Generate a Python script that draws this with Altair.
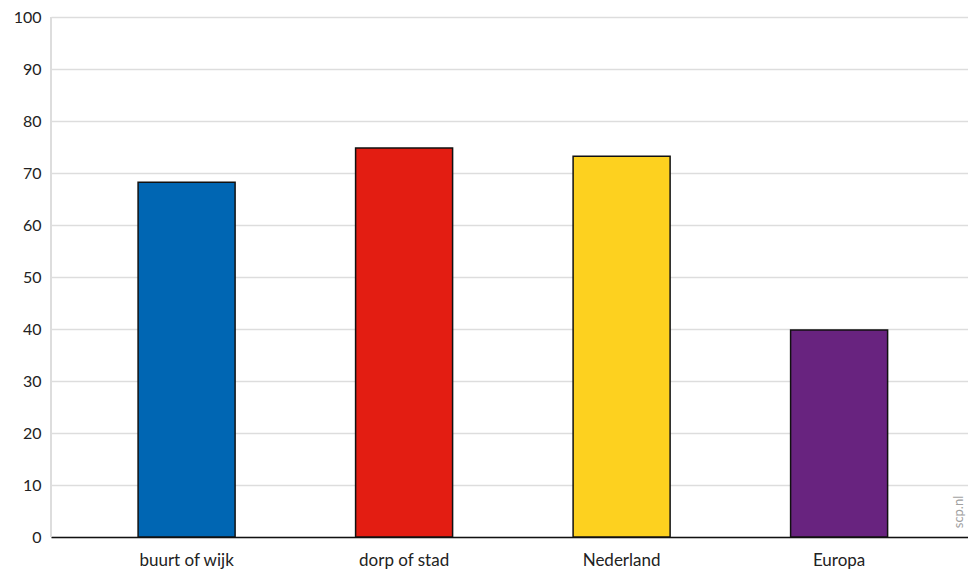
import altair as alt
import pandas as pd

categories = ["buurt of wijk", "dorp of stad", "Nederland", "Europa"]
values = [68.2, 74.8, 73.2, 39.8]
colors = ["#0066b3", "#e31d12", "#fdd11f", "#68237f"]
y_ticks = [0, 10, 20, 30, 40, 50, 60, 70, 80, 90, 100]

df = pd.DataFrame({"cat": categories, "val": values})

FONT = "Lato"

bars = alt.Chart(df).mark_bar(stroke="#111111", strokeWidth=1.5).encode(
    x=alt.X("cat:N", sort=categories,
            scale=alt.Scale(paddingInner=0.554, paddingOuter=0.385, align=0.52),
            axis=alt.Axis(title=None, labelAngle=0, labelFontSize=17, labelFont=FONT,
                          labelColor="#222222", labelPadding=15, ticks=False,
                          domainColor="#111111", domainWidth=1.5, grid=False)),
    y=alt.Y("val:Q", scale=alt.Scale(domain=[0, 100], nice=False),
            axis=alt.Axis(title=None, values=y_ticks, labelFontSize=16, labelFont=FONT,
                          labelColor="#222222", labelPadding=10, ticks=False,
                          domain=False, gridColor="#dddddd", gridWidth=1.5)),
    color=alt.Color("cat:N", scale=alt.Scale(domain=categories, range=colors), legend=None),
)

left_line = alt.Chart(df).mark_rule(color="#dddddd", strokeWidth=1.5).encode(
    x=alt.value(0), y=alt.value(0), y2=alt.value(520)
)

watermark = alt.Chart(pd.DataFrame({"t": ["scp.nl"]})).mark_text(
    angle=270, fontSize=13, font=FONT, color="#a0a0a0", align="center", baseline="middle"
).encode(text="t:N", x=alt.value(908), y=alt.value(495))

chart = alt.layer(left_line, bars, watermark).properties(
    width=917, height=520,
    autosize=alt.AutoSizeParams(type="none"),
    padding={"left": 43, "top": 9, "right": 0, "bottom": 35},
).configure_view(stroke=None)

chart.save("out.html", embed_options={"renderer": "svg", "actions": False})
